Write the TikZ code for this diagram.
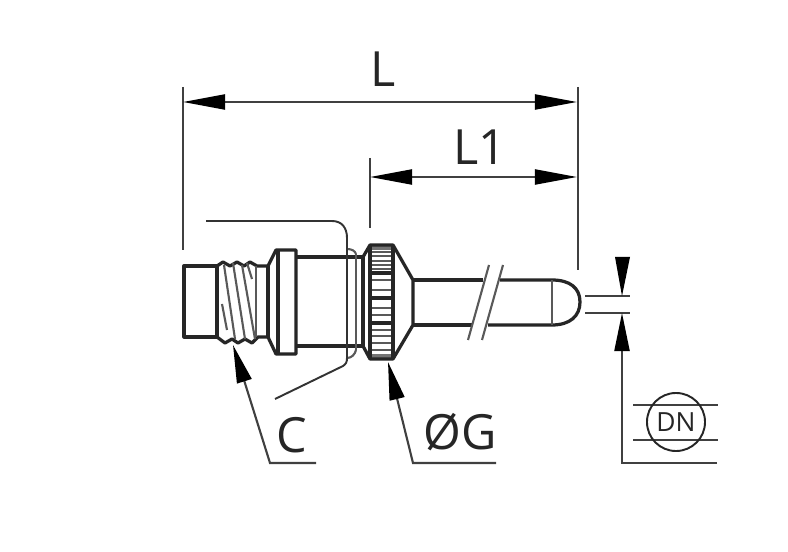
\documentclass[tikz,border=0pt]{standalone}
\usepackage{fontspec}
\setmainfont{Open Sans}
\usetikzlibrary{arrows.meta}
\tikzset{
  part/.style={line width=0.92pt,color=black!85,line join=round},
  thin part/.style={line width=0.6pt,color=black!65},
  leader/.style={line width=0.55pt,color=black!80},
  dimline/.style={line width=0.6pt,color=black!75},
  dimtip/.style={{Triangle[length=4.2mm,width=1.5mm,color=black]}-{Triangle[length=4.2mm,width=1.5mm,color=black]}},
  endtip/.style={-{Triangle[length=3.8mm,width=1.5mm,color=black]}},
  dimlabel/.style={font=\fontsize{13.8}{13.8}\selectfont,color=black!85,inner sep=0pt}
}
\begin{document}
\begin{tikzpicture}[x=0.01cm,y=-0.01cm]
  \useasboundingbox (0,0) rectangle (788,552);
  \fill[white] (0,0) rectangle (788,552);
  % knurled ring
  \fill[color=black!55] (370,246) rectangle (393,250);
  \fill[color=black!55] (370,354) rectangle (393,358);
  \foreach \y in {252,256,261,265,269,280,290,308,315,330,336,343,350}
    \draw[thin part] (370,\y) -- (393,\y);
  \foreach \y in {273,298,323}
    \draw[part] (370,\y) -- (393,\y);
  \draw[part] (363,257) -- (370,245) -- (393,245) -- (413,280) -- (413,325) -- (393,359) -- (370,359) -- (363,346);
  \draw[part] (370,245) -- (370,359);
  \draw[part] (393,245) -- (393,359);
  % left end and thread
  \draw[part] (217,266) -- (184,266) -- (184,337) -- (217,337);
  \draw[part] (217,266) -- (217,337);
  \draw[part] (217,266) -- (223,262) -- (230,266) -- (237,262) -- (244,266) -- (250,262) -- (257,266) -- (268,266);
  \draw[part] (217,337) -- (225,343) -- (232,339) -- (238,343) -- (245,339) -- (252,343) -- (258,337) -- (268,337);
  \draw[thin part] (224,265) -- (235,339);
  \draw[thin part] (233,263) -- (245,339);
  \draw[thin part] (242,265) -- (255,339);
  \draw[thin part] (247,263) -- (252,279);
  \draw[thin part] (222,304) -- (227,330);
  \draw[thin part] (256,266) -- (256,337);
  % flange and body
  \draw[part] (268,266) -- (268,337);
  \draw[part] (268,266) -- (276,250) -- (296,250) -- (296,354) -- (276,354) -- (268,337);
  \draw[part] (278,250) -- (278,354);
  \draw[part] (296,257) -- (363,257);
  \draw[part] (296,346) -- (363,346);
  \draw[part] (363,257) -- (363,346);
  \draw[thin part] (356,254) -- (356,350);
  \draw[thin part] (347,249) .. controls (352,249) and (355,251) .. (356,254);
  \draw[thin part] (347,358) .. controls (352,358) and (355,354) .. (356,350);
  % pin with break
  \draw[part] (413,280) -- (483,280);
  \draw[part] (500,280) -- (552,280) .. controls (570,280) and (580,288) .. (580,302) .. controls (580,316) and (570,325) .. (552,325) -- (488,325);
  \draw[part] (413,325) -- (472,325);
  \draw[thin part] (552,280) -- (552,325);
  \draw[thin part] (489,265) -- (468,340);
  \draw[thin part] (503,265) -- (482,340);
  % length dimensions
  \coordinate (Lleft) at (183,102);
  \coordinate (Lright) at (577,102);
  \coordinate (Lonestart) at (370,177);
  \coordinate (Loneend) at (577,177);
  \draw[dimline] (183,87) -- (183,250);
  \draw[dimline] (578,87) -- (578,270);
  \draw[dimline] (370,158) -- (370,228);
  \draw[dimline,dimtip] (Lleft) -- (Lright);
  \draw[dimline,dimtip] (Lonestart) -- (Loneend);
  \node[dimlabel] (labelL) at (383,69) {L};
  \node[dimlabel] (labelLone) at (480,147) {L1};
  % thread callout
  \draw[leader] (206,221) -- (332,221) .. controls (342,221) and (347,228) .. (347,238) -- (347,358) .. controls (347,362) and (346,364) .. (343,366) -- (275,399);
  \coordinate (Ctip) at (233,345);
  \coordinate (Cknee) at (270,463);
  \coordinate (Cend) at (316,463);
  \draw[dimline,endtip] (Cend) -- (Cknee) -- (Ctip);
  \node[dimlabel] (labelC) at (292,435) {C};
  % ring callout
  \coordinate (Gtip) at (388,362);
  \coordinate (Gknee) at (413,463);
  \coordinate (Gend) at (496,463);
  \draw[dimline,endtip] (Gend) -- (Gknee) -- (Gtip);
  \node[dimlabel] (labelG) at (460,432) {ØG};
  % bore dimension
  \draw[dimline] (585,296) -- (630,296);
  \draw[dimline] (585,313) -- (630,313);
  \coordinate (DNtop) at (622,257);
  \coordinate (DNupper) at (622,296);
  \coordinate (DNlower) at (622,313);
  \coordinate (DNknee) at (622,463);
  \coordinate (DNend) at (717,463);
  \fill[black] (615,257) -- (630,257) -- (DNupper) -- cycle;
  \draw[dimline,endtip] (DNend) -- (DNknee) -- (DNlower);
  \draw[dimline] (633,405) -- (718,405);
  \draw[dimline] (633,440) -- (718,440);
  \node[circle,draw=black!85,line width=0.55pt,minimum size=0.58cm,inner sep=0pt,font=\fontsize{7.5}{7.5}\selectfont,color=black!85] (DNsymbol) at (676,422) {DN};
\end{tikzpicture}
\end{document}
